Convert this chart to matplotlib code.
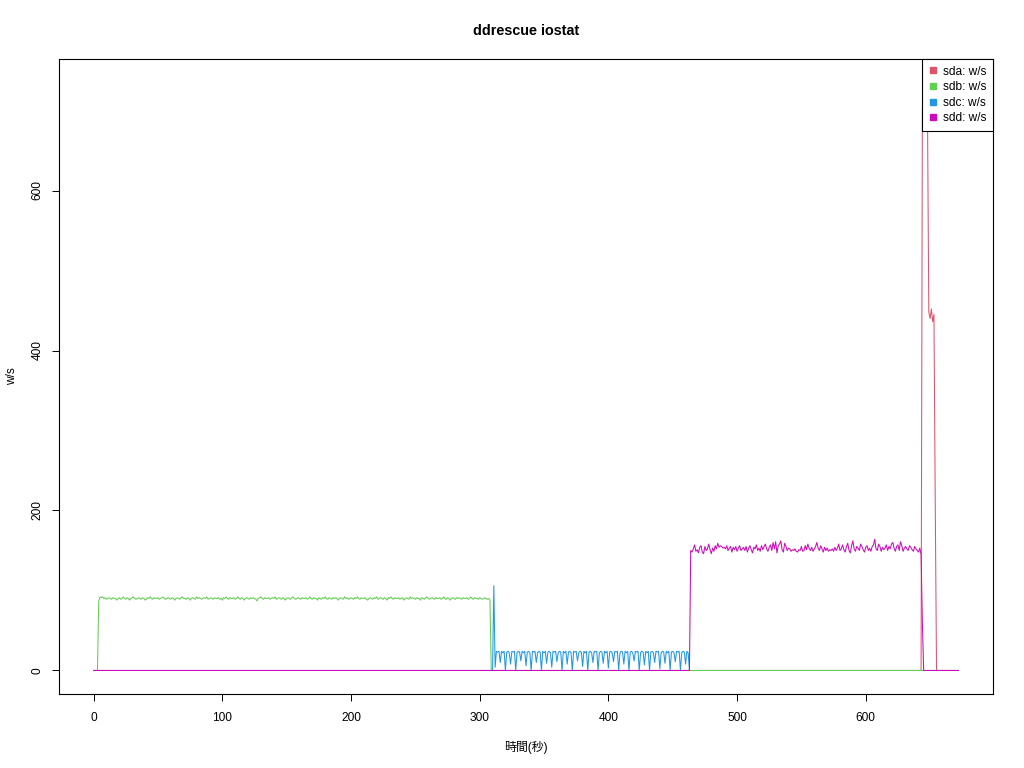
import numpy as np
import matplotlib
matplotlib.use("Agg")
import matplotlib.pyplot as plt
from matplotlib.lines import Line2D

plt.rcParams['font.family'] = ['Liberation Sans', 'Noto Sans CJK JP', 'DejaVu Sans']

# time axis: one sample per second
t_end = 672
names = ["sda: w/s", "sdb: w/s", "sdc: w/s", "sdd: w/s"]
colors = ["#DF536B", "#61D04F", "#2297E6", "#CD0BBC"]

# sda: short burst near the end
sda_start = 644
sda_vals = [700, 735, 720, 705, 690, 448, 440, 452, 436, 445, 210, 0]

# sdb: steady writes ~90/s
sdb_start = 4
sdb_vals = [
    87, 92, 91, 92, 90, 91, 89, 90, 91, 90, 89, 91, 90, 90, 88, 90, 91, 89, 90, 92,
    90, 89, 91, 90, 88, 90, 91, 92, 90, 89, 90, 91, 90, 89, 91, 90, 88, 89, 91, 90,
    92, 90, 89, 91, 90, 90, 91, 89, 90, 91, 92, 90, 89, 90, 91, 90, 89, 91, 90, 88,
    90, 91, 90, 89, 91, 92, 90, 90, 89, 91, 90, 88, 90, 91, 90, 89, 92, 90, 91, 90,
    89, 90, 91, 90, 92, 89, 90, 91, 90, 89, 91, 90, 90, 91, 89, 90, 88, 91, 90, 92,
    90, 89, 91, 90, 90, 91, 89, 90, 92, 90, 89, 91, 90, 88, 90, 91, 90, 89, 91, 90,
    91, 90, 89, 87, 90, 91, 92, 90, 89, 91, 90, 90, 91, 89, 90, 91, 90, 92, 89, 90,
    91, 90, 89, 91, 90, 88, 90, 91, 90, 89, 91, 92, 90, 89, 90, 91, 90, 89, 91, 90,
    90, 91, 89, 90, 92, 90, 89, 91, 90, 90, 88, 91, 90, 89, 91, 90, 92, 90, 89, 91,
    90, 89, 91, 90, 91, 90, 88, 90, 91, 90, 89, 92, 90, 91, 89, 90, 91, 90, 89, 91,
    90, 92, 90, 89, 91, 90, 90, 91, 89, 88, 90, 91, 90, 89, 91, 90, 92, 89, 90, 91,
    90, 89, 91, 90, 88, 91, 90, 92, 90, 89, 91, 90, 90, 91, 89, 90, 91, 88, 90, 91,
    90, 89, 92, 90, 91, 90, 89, 91, 90, 90, 88, 91, 90, 89, 91, 92, 90, 89, 90, 91,
    90, 89, 91, 90, 90, 91, 89, 90, 92, 90, 89, 91, 90, 88, 90, 91, 90, 89, 91, 90,
    91, 90, 89, 91, 90, 90, 91, 89, 90, 92, 90, 89, 91, 90, 90, 89, 91, 90, 89, 90,
    91, 90, 89, 90, 88,
]

# sdc: spike then saw-tooth ~24/s
sdc_start = 310
sdc_vals = [
    0, 106, 4,
    24, 23, 24, 10, 24, 22, 24, 0, 23, 24, 22, 8,
    24, 23, 24, 0, 22, 24, 23, 12, 24, 22, 24, 6,
    23, 24, 22, 0, 24, 23, 24, 10, 22, 24, 23, 0,
    24, 22, 24, 9, 23, 24, 22, 4, 24, 23, 24, 11,
    22, 24, 23, 0, 24, 22, 24, 8, 23, 24, 22, 0,
    24, 23, 24, 12, 22, 24, 23, 5, 24, 22, 24, 0,
    23, 24, 22, 10, 24, 23, 24, 0, 22, 24, 23, 9,
    24, 22, 24, 3, 23, 24, 22, 11, 24, 23, 24, 0,
    22, 24, 23, 8, 24, 22, 24, 0, 23, 24, 22, 12,
    24, 23, 24, 0, 22, 24, 23, 7, 24, 22, 24, 0,
    23, 24, 22, 10, 24, 23, 24, 2, 22, 24, 23, 9,
    24, 22, 24, 0, 23, 24, 22, 11, 24, 23, 24, 0,
    22, 24, 23, 8, 24, 22,
]

# sdd: noisy ~150/s
sdd_start = 464
sdd_vals = [
    150, 148, 152, 157, 149, 151, 147, 154, 156, 148,
    146, 155, 150, 152, 158, 151, 146, 153, 149, 156,
    152, 159, 154, 156, 155, 153, 154, 152, 156, 150,
    153, 155, 148, 154, 151, 155, 149, 153, 156, 150,
    152, 154, 150, 155, 148, 153, 156, 151, 147, 154,
    152, 157, 150, 153, 149, 156, 151, 155, 158, 152,
    149, 154, 157, 150, 160, 152, 161, 147, 156, 158,
    162, 151, 148, 159, 155, 150, 153, 152, 149, 151,
    150, 152, 149, 148, 151, 150, 155, 149, 150, 156,
    151, 158, 153, 150, 154, 149, 152, 155, 160, 153,
    150, 156, 152, 148, 154, 150, 153, 149, 151, 150,
    152, 149, 154, 150, 153, 158, 150, 152, 157, 151,
    148, 155, 159, 150, 147, 156, 162, 152, 149, 155,
    153, 150, 158, 155, 151, 148, 154, 156, 150, 153,
    149, 155, 157, 164, 152, 150, 158, 155, 149, 154,
    151, 153, 157, 150, 155, 152, 158, 160, 153, 149,
    155, 157, 150, 161, 156, 149, 153, 155, 152, 150,
    156, 154, 151, 149, 155, 152, 150, 148, 153, 145,
    60,
]

t = np.arange(t_end + 1)


def series(start, vals):
    y = np.zeros(len(t))
    y[start:start + len(vals)] = vals
    return y


ys = [series(sda_start, sda_vals), series(sdb_start, sdb_vals),
      series(sdc_start, sdc_vals), series(sdd_start, sdd_vals)]

fig = plt.figure(figsize=(10.24, 7.68), dpi=100)
ax = fig.add_axes([59 / 1024, 1 - 694 / 768, 934 / 1024, 635 / 768])

# draw order so that sdd sits on top of the zero line
for i in [0, 2, 1, 3]:
    ax.plot(t, ys[i], color=colors[i], lw=0.75)

ymax = max(y.max() for y in ys)
ax.set_xlim(-0.04 * t_end, 1.04 * t_end)
ax.set_ylim(-0.04 * ymax, 1.04 * ymax)
ax.set_xticks([0, 100, 200, 300, 400, 500, 600])
ax.set_yticks([0, 200, 400, 600])
ax.tick_params(direction='out', length=5, width=0.7, labelsize=8.6, pad=6)
ax.tick_params(axis='x', pad=8)
for lbl in ax.get_yticklabels():
    lbl.set_rotation(90)
    lbl.set_va('center')
for s in ax.spines.values():
    s.set_linewidth(0.8)

ax.set_title("ddrescue iostat", fontsize=10.4, fontweight='bold', pad=17)
ax.set_xlabel("時間(秒)", fontsize=8.6, labelpad=12)
ax.set_ylabel("w/s", fontsize=8.6, labelpad=10)

handles = [Line2D([], [], marker='s', linestyle='', color=c, markersize=4.5) for c in colors]
leg = ax.legend(handles, names, loc='upper right', borderaxespad=0, fontsize=8.6,
                frameon=True, fancybox=False, framealpha=1, edgecolor='black',
                handlelength=0.7, handletextpad=0.5, labelspacing=0.3, borderpad=0.55)
leg.get_frame().set_linewidth(0.8)
leg.set_zorder(5)

fig.savefig("out.png", dpi=100)
